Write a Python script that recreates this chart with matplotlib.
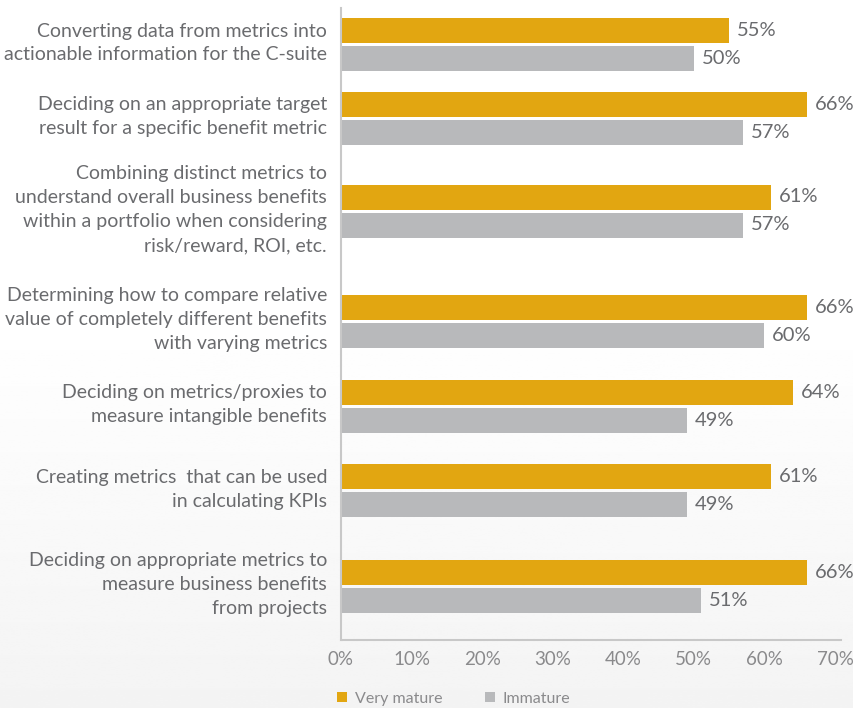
import matplotlib
matplotlib.use("Agg")
import matplotlib.pyplot as plt
import matplotlib.transforms as mtransforms
import numpy as np

categories = [
    "Converting data from metrics into\nactionable information for the C-suite",
    "Deciding on an appropriate target\nresult for a specific benefit metric",
    "Combining distinct metrics to\nunderstand overall business benefits\nwithin a portfolio when considering\nrisk/reward, ROI, etc.",
    "Determining how to compare relative\nvalue of completely different benefits\nwith varying metrics",
    "Deciding on metrics/proxies to\nmeasure intangible benefits",
    "Creating metrics  that can be used\nin calculating KPIs",
    "Deciding on appropriate metrics to\nmeasure business benefits\nfrom projects",
]
very_mature = [55, 66, 61, 66, 64, 61, 66]
immature = [50, 57, 57, 60, 49, 49, 51]
tick_vals = [0, 10, 20, 30, 40, 50, 60, 70]

# row centres, measured down from the top of the plot area
row_y = [36.5, 110, 203, 313.5, 398, 482.5, 578]
bar_h = 25
offset = 14

GOLD = "#E2A611"
GRAY = "#B8B9BB"
TEXT = "#6A6B6E"
LIGHT = "#8A8A8C"

plt.rcParams["font.family"] = ["Lato", "DejaVu Sans"]

fig = plt.figure(figsize=(8.54, 7.08), dpi=100)
W, H = 854, 708

# faint grey wash towards the bottom of the page
bg = fig.add_axes([0, 0, 1, 1], zorder=-10)
grad = np.clip((np.linspace(0, 1, 300) - 0.45) / 0.55, 0, 1)
shade = 1 - 0.045 * grad
bg.imshow(np.repeat(shade[:, None], 2, axis=1), cmap="gray", vmin=0, vmax=1,
          aspect="auto", extent=[0, 1, 0, 1], origin="upper")
bg.axis("off")

ax = fig.add_axes([341 / W, 1 - 640 / H, 500 / W, 632 / H])
ax.patch.set_alpha(0)

y = np.array(row_y)
ax.barh(y - offset, very_mature, height=bar_h, color=GOLD, label="Very mature")
ax.barh(y + offset, immature, height=bar_h, color=GRAY, label="Immature")

for yy, v in zip(y - offset, very_mature):
    ax.text(v + 1.1, yy, f"{v}%", va="center", ha="left", fontsize=14.5, color=TEXT)
for yy, v in zip(y + offset, immature):
    ax.text(v + 1.1, yy, f"{v}%", va="center", ha="left", fontsize=14.5, color=TEXT)

ax.set_xlim(0, 70.85)
ax.set_ylim(632, 0)
ax.set_yticks(y)
ax.set_yticklabels(categories, fontsize=14, color=TEXT, linespacing=1.5)
ax.tick_params(axis="y", length=0, pad=10)

# nudge the category labels up a little
lift = mtransforms.ScaledTranslation(0, 0.065, fig.dpi_scale_trans)
for lbl in ax.get_yticklabels():
    lbl.set_transform(lbl.get_transform() + lift)

ax.set_xticks(tick_vals)
ax.set_xticklabels([f"{t}%" for t in tick_vals], fontsize=13.5, color=LIGHT)
ax.tick_params(axis="x", length=0, pad=8)

for side in ["top", "right"]:
    ax.spines[side].set_visible(False)
for side in ["left", "bottom"]:
    ax.spines[side].set_color("#C8C8C8")
    ax.spines[side].set_linewidth(1.5)

handles, labels = ax.get_legend_handles_labels()
leg = fig.legend(handles, labels, loc="center left",
                 bbox_to_anchor=(337 / W, 1 - 699 / H), ncol=2, frameon=False,
                 fontsize=11.5, handlelength=0.6, handleheight=0.6,
                 handletextpad=0.5, columnspacing=2.7,
                 borderaxespad=0, borderpad=0)
for t in leg.get_texts():
    t.set_color(LIGHT)

fig.savefig("out.png", dpi=100)
